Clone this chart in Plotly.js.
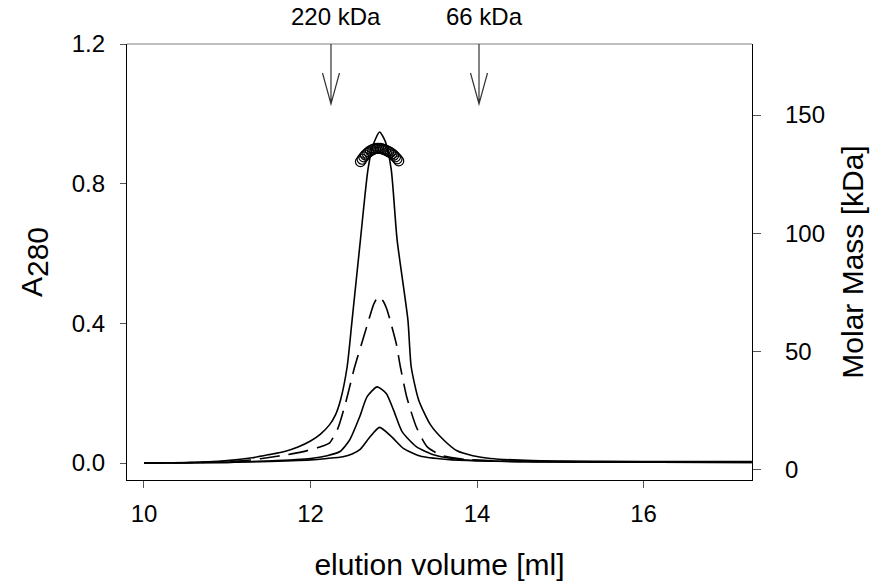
<!DOCTYPE html>
<html>
<head>
<meta charset="utf-8">
<script src="https://cdn.plot.ly/plotly-3.0.1.min.js"></script>
<style>html,body{margin:0;padding:0;background:#fff;}#chart{width:886px;height:585px;}</style>
</head>
<body>
<div id="chart"></div>
<script>
// Curve A (largest, solid)
var volA = [10.0,10.5,11.0,11.3,11.5,11.7,11.85,12.0,12.12,12.23,12.3,12.36,12.44,12.5,12.6,12.69,12.75,12.83,12.9,12.97,13.04,13.17,13.21,13.30,13.44,13.6,13.76,13.95,14.16,14.67,15.5,16.5,17.3];
var absA = [0.0,0.001,0.007,0.015,0.024,0.034,0.046,0.063,0.083,0.11,0.138,0.18,0.275,0.41,0.64,0.84,0.91,0.948,0.92,0.84,0.64,0.41,0.275,0.18,0.11,0.066,0.035,0.021,0.013,0.007,0.005,0.004,0.004];
// Curve B (dashed)
var volB = [10.0,10.5,11.0,11.3,11.5,11.7,11.9,12.1,12.23,12.33,12.43,12.53,12.65,12.7,12.76,12.815,12.87,12.915,12.955,13.03,13.08,13.155,13.27,13.4,13.56,13.8,14.2,15.0,16.0,17.3];
var absB = [0.0,0.001,0.004,0.009,0.016,0.023,0.032,0.045,0.058,0.10,0.18,0.275,0.37,0.41,0.455,0.477,0.465,0.442,0.41,0.342,0.275,0.19,0.104,0.047,0.023,0.012,0.006,0.004,0.003,0.003];
// Curve C (solid, medium)
var volC = [10.0,11.0,11.5,12.0,12.2,12.355,12.47,12.59,12.68,12.8,12.91,13.0,13.1,13.27,13.5,13.8,14.3,15.0,17.3];
var absC = [0.0,0.002,0.006,0.013,0.021,0.033,0.066,0.132,0.19,0.218,0.199,0.15,0.09,0.047,0.022,0.01,0.005,0.003,0.002];
// Curve D (solid, smallest)
var volD = [10.0,11.0,11.4,12.0,12.2,12.39,12.5,12.6,12.715,12.83,12.975,13.115,13.315,13.64,14.0,15.0,17.3];
var absD = [0.0,0.002,0.004,0.009,0.013,0.018,0.026,0.040,0.075,0.102,0.075,0.042,0.02,0.01,0.006,0.003,0.002];
// Molar mass (right axis)
var volMM = [12.60,12.62,12.64,12.66,12.68,12.70,12.72,12.74,12.76,12.78,12.80,12.82,12.84,12.86,12.88,12.90,12.92,12.94,12.96,12.98,13.00,13.02,13.04,13.06];
var molarMass = [130.3,131.3,132.3,133.1,133.8,134.4,134.9,135.3,135.6,135.8,135.9,135.9,135.9,135.7,135.5,135.2,134.9,134.5,134.1,133.6,133.0,132.3,131.5,130.6];
// Calibration markers
var markerVol = [12.246, 14.024];
var markerLabels = ['220 kDa', '66 kDa'];

var FONT = 'Arial, "Liberation Sans", sans-serif';
var lineStyle = {color:'#000', width:1.6, shape:'spline', smoothing:0.6};

var traces = [
  {x:volA, y:absA, mode:'lines', line:lineStyle, showlegend:false, hoverinfo:'skip'},
  {x:volB, y:absB, mode:'lines', line:Object.assign({}, lineStyle, {dash:'20px,9px'}), showlegend:false, hoverinfo:'skip'},
  {x:volC, y:absC, mode:'lines', line:lineStyle, showlegend:false, hoverinfo:'skip'},
  {x:volD, y:absD, mode:'lines', line:lineStyle, showlegend:false, hoverinfo:'skip'},
  {x:volMM, y:molarMass, yaxis:'y2', mode:'markers', showlegend:false, hoverinfo:'skip',
   marker:{symbol:'circle-open', size:10, color:'#000', line:{width:1.2, color:'#000'}}}
];

var shapes = [
  {type:'line', xref:'paper', yref:'paper', x0:0, x1:1, y0:1, y1:1, line:{color:'#808080', width:1.2}}
];
var annotations = [];
for (var i = 0; i < markerVol.length; i++) {
  shapes.push({type:'path', xref:'x', yref:'paper', xsizemode:'pixel', ysizemode:'pixel',
    xanchor:markerVol[i], yanchor:1,
    path:'M0,0L0,-60M-8.5,-29L0,-60L8.5,-29', line:{color:'#333', width:1.2}});
  annotations.push({xref:'x', yref:'paper', x:markerVol[i], y:1, xshift:5, yshift:12,
    yanchor:'bottom', xanchor:'center', showarrow:false, text:markerLabels[i],
    font:{family:FONT, size:24, color:'#000'}});
}

var layout = {
  width:886, height:585,
  margin:{l:127, r:134, t:44, b:105},
  paper_bgcolor:'#fff', plot_bgcolor:'#fff',
  font:{family:FONT, color:'#000'},
  xaxis:{range:[9.796, 17.303], tickvals:[10,12,14,16], ticks:'outside', ticklen:7, tickcolor:'#555',
    showline:true, linecolor:'#000', linewidth:1.2, showgrid:false, zeroline:false,
    tickfont:{size:24}, ticklabelstandoff:5,
    title:{text:'elution volume [ml]', font:{size:30}, standoff:28}},
  yaxis:{range:[-0.0486, 1.2], tickvals:[0,0.4,0.8,1.2], tickformat:'.1f', ticks:'outside', ticklen:6, tickcolor:'#555',
    showline:true, linecolor:'#000', linewidth:1.2, showgrid:false, zeroline:false,
    tickfont:{size:24}, ticklabelstandoff:10,
    title:{text:'A<sub><span style="font-size:30px">280</span></sub>', font:{size:30}, standoff:20}},
  yaxis2:{overlaying:'y', side:'right', range:[-4.23, 180], tickvals:[0,50,100,150], ticks:'outside', ticklen:8, tickcolor:'#555',
    showline:true, linecolor:'#000', linewidth:1.2, showgrid:false, zeroline:false,
    tickfont:{size:24}, ticklabelstandoff:19,
    title:{text:'Molar Mass [kDa]', font:{size:30}, standoff:18}},
  shapes:shapes,
  annotations:annotations
};

Plotly.newPlot('chart', traces, layout, {staticPlot:true, displayModeBar:false});
</script>
</body>
</html>
